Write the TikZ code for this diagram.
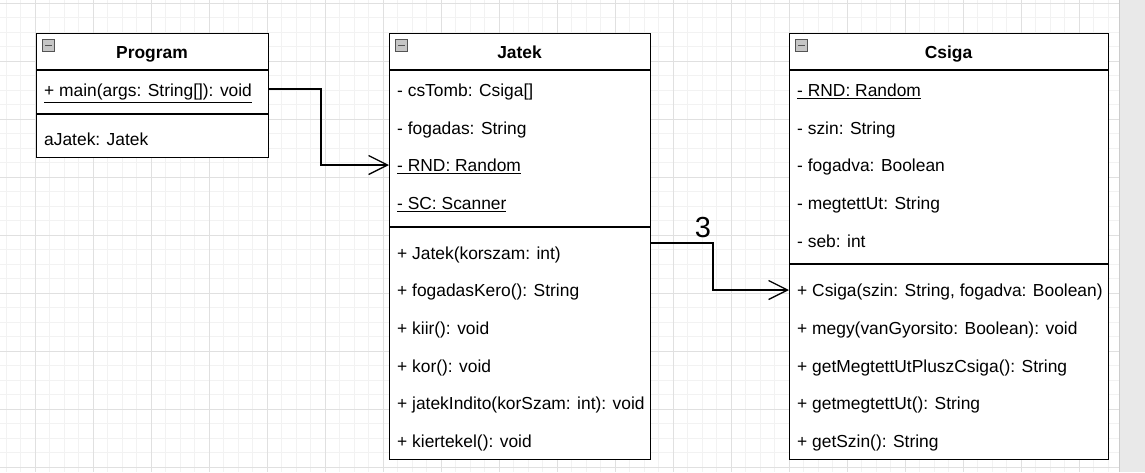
\documentclass[tikz,border=0pt]{standalone}
\usepackage{fontspec}
\setmainfont{Liberation Sans}
\usetikzlibrary{arrows.meta,positioning,calc}
\definecolor{gridmajor}{HTML}{E0E0E0}
\definecolor{gridminor}{HTML}{F2F2F2}
\definecolor{panelgray}{HTML}{E9E9E9}
\tikzset{
  classbox/.style={draw, line width=1.4pt, anchor=north west, inner sep=0pt, fill=white},
  title/.style={font=\fontsize{17.4}{20}\selectfont\bfseries, inner sep=0pt, anchor=base},
  row/.style={font=\fontsize{17.4}{20}\selectfont, anchor=base west, inner sep=0pt},
  fold/.style={draw=gray!65!black, fill=gray!45, minimum size=12pt, inner sep=0pt,
    path picture={\draw[line width=1.4pt] ([xshift=2.5pt]path picture bounding box.west) -- ([xshift=-2.5pt]path picture bounding box.east);}},
  assoc/.style={line width=1.3pt, -{Straight Barb[length=19pt, width=19pt, line width=1.3pt]}},
}
\begin{document}
\begin{tikzpicture}[x=1pt, y=-1pt]
\useasboundingbox (0,0) rectangle (1145,472);
% grid
\foreach \i in {0,...,76} \draw[gridminor, line width=0.8pt] (6.3+\i*14.5,0) -- (6.3+\i*14.5,472);
\foreach \i in {0,...,32} \draw[gridminor, line width=0.8pt] (0,3.3+\i*14.5) -- (1119,3.3+\i*14.5);
\foreach \i in {0,...,19} \draw[gridmajor, line width=0.9pt] (35.3+\i*58-58,0) -- (35.3+\i*58-58,472);
\foreach \i in {0,...,8} \draw[gridmajor, line width=0.9pt] (0,3.3+\i*58) -- (1119,3.3+\i*58);
\fill[panelgray] (1118.7,0) rectangle (1145,472);
\draw[gray!40, line width=1pt] (1119.2,0) -- (1119.2,472);
%
% Program
\node[classbox, minimum width=232pt, minimum height=124pt] (prog) at (36,33) {};
\draw[line width=1.4pt] (prog.west |- 0,70) -- (prog.east |- 0,70);
\draw[line width=1.4pt] (prog.west |- 0,114) -- (prog.east |- 0,114);
\node[fold] (progfold) at (48.5,45.5) {};
\node[title] (progtitle) at (152,58.3) {Program};
\node[row] (pm1) at (44,96.7) {\underline{+ main(args: String[]): void}};
\node[row] (pa1) at (44,145) {aJatek: Jatek};
%
% Jatek
\node[classbox, minimum width=261pt, minimum height=426pt] (jatek) at (389,33) {};
\draw[line width=1.4pt] (jatek.west |- 0,70) -- (jatek.east |- 0,70);
\draw[line width=1.4pt] (jatek.west |- 0,227) -- (jatek.east |- 0,227);
\node[fold] (jatekfold) at (401.5,45.5) {};
\node[title] (jatektitle) at (519.5,58.3) {Jatek};
\node[row] (ja1) at (397,96.5) {- csTomb: Csiga[]};
\node[row] (ja2) at (397,134.2) {- fogadas: String};
\node[row] (ja3) at (397,171.9) {\underline{- RND: Random}};
\node[row] (ja4) at (397,209.6) {\underline{- SC: Scanner}};
\node[row] (jm1) at (397,259) {+ Jatek(korszam: int)};
\node[row] (jm2) at (397,296.7) {+ fogadasKero(): String};
\node[row] (jm3) at (397,334.4) {+ kiir(): void};
\node[row] (jm4) at (397,372.1) {+ kor(): void};
\node[row] (jm5) at (397,409.8) {+ jatekIndito(korSzam: int): void};
\node[row] (jm6) at (397,447.5) {+ kiertekel(): void};
%
% Csiga
\node[classbox, minimum width=319pt, minimum height=426pt] (csiga) at (789,33) {};
\draw[line width=1.4pt] (csiga.west |- 0,70) -- (csiga.east |- 0,70);
\draw[line width=1.4pt] (csiga.west |- 0,264) -- (csiga.east |- 0,264);
\node[fold] (csigafold) at (801.5,45.5) {};
\node[title] (csigatitle) at (948.5,58.3) {Csiga};
\node[row] (ca1) at (797,96.5) {\underline{- RND: Random}};
\node[row] (ca2) at (797,134.2) {- szin: String};
\node[row] (ca3) at (797,171.9) {- fogadva: Boolean};
\node[row] (ca4) at (797,209.6) {- megtettUt: String};
\node[row] (ca5) at (797,247.3) {- seb: int};
\node[row] (cm1) at (797,296.7) {+ Csiga(szin: String, fogadva: Boolean)};
\node[row] (cm2) at (797,334.4) {+ megy(vanGyorsito: Boolean): void};
\node[row] (cm3) at (797,372.1) {+ getMegtettUtPluszCsiga(): String};
\node[row] (cm4) at (797,409.8) {+ getmegtettUt(): String};
\node[row] (cm5) at (797,447.5) {+ getSzin(): String};
%
% connectors
\coordinate (pout) at (268,89);
\coordinate (jin) at (389,165);
\coordinate (jout) at (650,243);
\coordinate (cin) at (789,290);
\draw[assoc] (pout) -- ++(53,0) |- (jin);
\draw[assoc] (jout) -- ++(63,0) |- (cin);
\node[font=\fontsize{29}{32}\selectfont, inner sep=0pt, anchor=base] (mult) at (703,237.3) {3};
\end{tikzpicture}
\end{document}
